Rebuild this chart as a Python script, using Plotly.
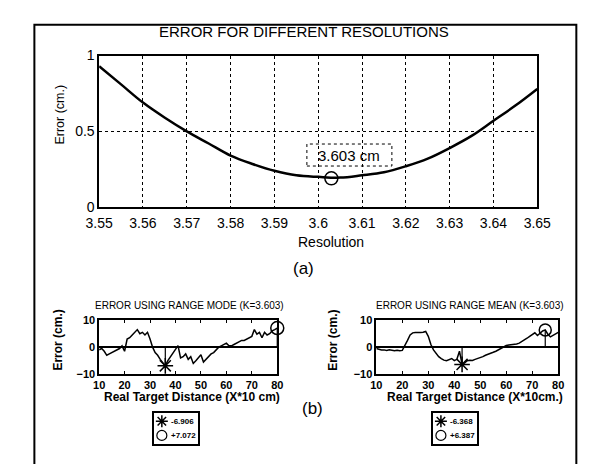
import plotly.graph_objects as go

# ---------------- data ----------------
resolution = [3.55, 3.555, 3.56, 3.565, 3.57, 3.575, 3.58, 3.585, 3.59, 3.595, 3.60,
              3.605, 3.61, 3.615, 3.62, 3.625, 3.63, 3.635, 3.64, 3.645, 3.65]
res_error = [0.93, 0.81, 0.69, 0.59, 0.50, 0.42, 0.34, 0.285, 0.24, 0.21, 0.20,
             0.195, 0.21, 0.23, 0.27, 0.32, 0.39, 0.47, 0.57, 0.67, 0.78]
res_ticks = [3.55, 3.56, 3.57, 3.58, 3.59, 3.60, 3.61, 3.62, 3.63, 3.64, 3.65]
res_tick_labels = ["3.55", "3.56", "3.57", "3.58", "3.59", "3.6", "3.61", "3.62", "3.63", "3.64", "3.65"]
best_res = 3.603
best_err = 0.19

distance = list(range(10, 81))
mode_err = [-1.0, -0.5, -1.5, -3.0, -2.5, -2.0, -1.5, -1.0, -0.5, 0.5,
            -1.5, 3.0, 3.5, 4.5, 5.5, 6.5, 5.0, 5.5, 4.5, 5.5,
            3.0, 0.0, -2.0, -3.0, -4.5, -5.5, -6.906, -5.0, -3.5, -2.0,
            -0.5, 0.6, -4.0, -3.5, -2.5, -4.5, -3.5, -6.0, -5.0, -4.0,
            -2.8, -5.5, -4.5, -3.5, -2.5, -2.0, -1.0, 0.0, 0.5, 1.0,
            1.5, 0.5, 0.5, 1.0, 1.5, 2.0, 2.5, 2.5, 3.0, 3.5,
            4.0, 6.5, 4.8, 5.5, 3.5, 5.5, 4.5, 5.0, 6.0, 6.5,
            7.072]
mean_err = [-0.5, -0.8, -1.0, -1.0, -1.2, -1.0, -1.2, -1.3, -1.1, -1.3,
            -1.2, 0.5, 2.5, 4.5, 5.3, 5.4, 5.3, 5.4, 5.5, 5.8,
            4.0, 1.0, -1.0, -2.5, -3.5, -4.2, -4.8, -5.0, -4.5, -4.2,
            -5.0, -4.5, -1.5, -6.368, -5.8, -5.0, -4.8, -4.9, -4.5, -4.2,
            -3.8, -3.5, -3.0, -2.7, -2.3, -1.9, -1.5, -0.9, -0.5, 0.0,
            0.6, 0.8, 0.9, 1.1, 1.2, 1.5, 2.0, 2.5, 3.3, 4.0,
            4.8, 5.3, 4.3, 5.3, 6.0, 6.387, 4.8, 3.8, 4.3, 5.0,
            5.5]
dist_ticks = [10, 20, 30, 40, 50, 60, 70, 80]
err_ticks = [-10, 0, 10]

# ---------------- helpers ----------------
W, H = 589, 464
FONT = "Liberation Sans, Arial, sans-serif"


def px(x):
    return x / W


def py(y):
    return 1 - y / H


fig = go.Figure()

# ---- top plot ----
fig.add_trace(go.Scatter(x=resolution, y=res_error, mode="lines",
                         line=dict(color="black", width=2.5, shape="spline"),
                         xaxis="x", yaxis="y"))
fig.add_trace(go.Scatter(x=[best_res], y=[best_err], mode="markers",
                         marker=dict(symbol="circle-open", size=13, color="black",
                                     line=dict(width=1.5, color="black")),
                         xaxis="x", yaxis="y"))


def extremes(xs, ys):
    i_min = min(range(len(ys)), key=lambda i: ys[i])
    i_max = max(range(len(ys)), key=lambda i: ys[i])
    return xs[i_min], ys[i_min], xs[i_max], ys[i_max]


def add_bottom(xs, ys, xa, ya, circ_size):
    xmn, ymn, xmx, ymx = extremes(xs, ys)
    fig.add_trace(go.Scatter(x=xs, y=ys, mode="lines",
                             line=dict(color="black", width=1.5),
                             xaxis=xa, yaxis=ya))
    for xx, vv in ((xmn, ymn), (xmx, ymx)):
        fig.add_trace(go.Scatter(x=[xx, xx], y=[0, vv], mode="lines",
                                 line=dict(color="black", width=1.2),
                                 xaxis=xa, yaxis=ya, cliponaxis=False))
    fig.add_trace(go.Scatter(x=[xmn], y=[ymn], mode="markers", cliponaxis=False,
                             marker=dict(symbol="asterisk-open", size=13, color="black",
                                         line=dict(width=1.5, color="black")),
                             xaxis=xa, yaxis=ya))
    fig.add_trace(go.Scatter(x=[xmx], y=[ymx], mode="markers", cliponaxis=False,
                             marker=dict(symbol="circle-open", size=circ_size, color="black",
                                         line=dict(width=1.5, color="black")),
                             xaxis=xa, yaxis=ya))
    return ymn, ymx


mode_min, mode_max = add_bottom(distance, mode_err, "x2", "y2", 13)
mean_min, mean_max = add_bottom(distance, mean_err, "x3", "y3", 12)

# ---- legend keys (small boxed legends) ----
for xa, ya in (("x4", "y4"), ("x5", "y5")):
    fig.add_trace(go.Scatter(x=[0.17], y=[0.73], mode="markers", cliponaxis=False,
                             marker=dict(symbol="asterisk-open", size=10, color="black",
                                         line=dict(width=1.5, color="black")),
                             xaxis=xa, yaxis=ya))
    fig.add_trace(go.Scatter(x=[0.17], y=[0.27], mode="markers", cliponaxis=False,
                             marker=dict(symbol="circle-open", size=10, color="black",
                                         line=dict(width=1.2, color="black")),
                             xaxis=xa, yaxis=ya))

axis_common = dict(showline=True, mirror=True, linecolor="black", linewidth=1.5,
                   zeroline=False, fixedrange=True)

bottom_x = dict(axis_common, range=[10, 80], tickvals=dist_ticks, ticks="inside",
                ticklen=3, tickcolor="black", mirror="ticks", showgrid=False,
                tickfont=dict(size=11, family=FONT, color="black", weight="bold"))
bottom_y = dict(axis_common, range=[-10, 10], tickvals=err_ticks, ticks="inside",
                ticklen=3, tickcolor="black", mirror="ticks", showgrid=False,
                zeroline=True, zerolinecolor="black", zerolinewidth=1.5,
                tickfont=dict(size=11, family=FONT, color="black", weight="bold"))
legend_ax = dict(axis_common, range=[0, 1], showticklabels=False, ticks="",
                 showgrid=False, linewidth=1.5)

fig.update_layout(
    width=W, height=H, margin=dict(l=0, r=0, t=0, b=0),
    paper_bgcolor="white", plot_bgcolor="white", showlegend=False,
    font=dict(family=FONT, color="black"),
    xaxis=dict(axis_common, domain=[px(81), px(541)], anchor="y", range=[3.55, 3.65],
               tickvals=res_ticks, ticktext=res_tick_labels, ticks="",
               ticklabelstandoff=2,
               showgrid=True, gridcolor="black", griddash="dot", gridwidth=1,
               tickfont=dict(size=14, family=FONT, color="black")),
    yaxis=dict(axis_common, domain=[py(198), py(41)], anchor="x", range=[0, 1],
               tickvals=[0, 0.5, 1], ticktext=["0", "0.5", "1"], ticks="",
               showgrid=True, gridcolor="black", griddash="dot", gridwidth=1,
               tickfont=dict(size=14, family=FONT, color="black")),
    xaxis2=dict(bottom_x, domain=[px(81), px(268)], anchor="y2"),
    yaxis2=dict(bottom_y, domain=[py(371), py(315)], anchor="x2"),
    xaxis3=dict(bottom_x, domain=[px(372), px(563)], anchor="y3"),
    yaxis3=dict(bottom_y, domain=[py(371), py(315)], anchor="x3"),
    xaxis4=dict(legend_ax, domain=[px(139), px(185)], anchor="y4"),
    yaxis4=dict(legend_ax, domain=[py(443), py(411)], anchor="x4"),
    xaxis5=dict(legend_ax, domain=[px(432), px(478)], anchor="y5"),
    yaxis5=dict(legend_ax, domain=[py(443), py(411)], anchor="x5"),
)


def label(text, x, y, size, angle=0, bold=False):
    fig.add_annotation(text=text, x=px(x), y=py(y), xref="paper", yref="paper",
                       showarrow=False, xanchor="center", yanchor="middle",
                       textangle=angle,
                       font=dict(size=size, family=FONT, color="black",
                                 weight="bold" if bold else "normal"))


label("ERROR FOR DIFFERENT RESOLUTIONS", 296, 16, 15)
label("Error (cm.)", 40, 102, 12.5, angle=-90)
label("Resolution", 324, 234, 14)
label("(a)", 296, 261, 17)
label("(b)", 305, 406, 17)

label("ERROR USING RANGE MODE (K=%.3f)" % best_res, 176, 300, 10)
label("ERROR USING RANGE MEAN (K=%.3f)" % best_res, 470, 300, 10)
label("Error (cm.)", 38, 336, 12, angle=-90, bold=True)
label("Error (cm.)", 327, 336, 12, angle=-90, bold=True)
label("Real Target Distance (X*10 cm)", 178, 395, 12, bold=True)
label("Real Target Distance (X*10cm.)", 476, 395, 12, bold=True)

# legend texts
for xa, ya, vmin, vmax in (("x4", "y4", mode_min, mode_max), ("x5", "y5", mean_min, mean_max)):
    for val, yy in ((vmin, 0.73), (vmax, 0.27)):
        fig.add_annotation(text="%+.3f" % val, x=0.33, y=yy, xref=xa, yref=ya,
                           showarrow=False, xanchor="left", yanchor="middle",
                           font=dict(size=8, family=FONT, color="black", weight="bold"))

# "3.603 cm" data label with dotted box
lab_x, lab_y = 3.607, 0.344
fig.add_annotation(text="%.3f cm" % best_res, x=lab_x, y=lab_y, xref="x", yref="y",
                   showarrow=False, xanchor="center", yanchor="middle",
                   font=dict(size=15, family=FONT, color="black"))
fig.add_shape(type="rect", xref="x", yref="y", xsizemode="pixel", ysizemode="pixel",
              xanchor=lab_x, yanchor=lab_y, x0=-42, x1=43, y0=-11, y1=11,
              line=dict(color="black", width=1, dash="dot"))

# outer frame
fig.add_shape(type="rect", xref="paper", yref="paper",
              x0=px(13), x1=px(582), y0=py(475), y1=py(9),
              line=dict(color="black", width=2))

fig.write_html("out.html")
